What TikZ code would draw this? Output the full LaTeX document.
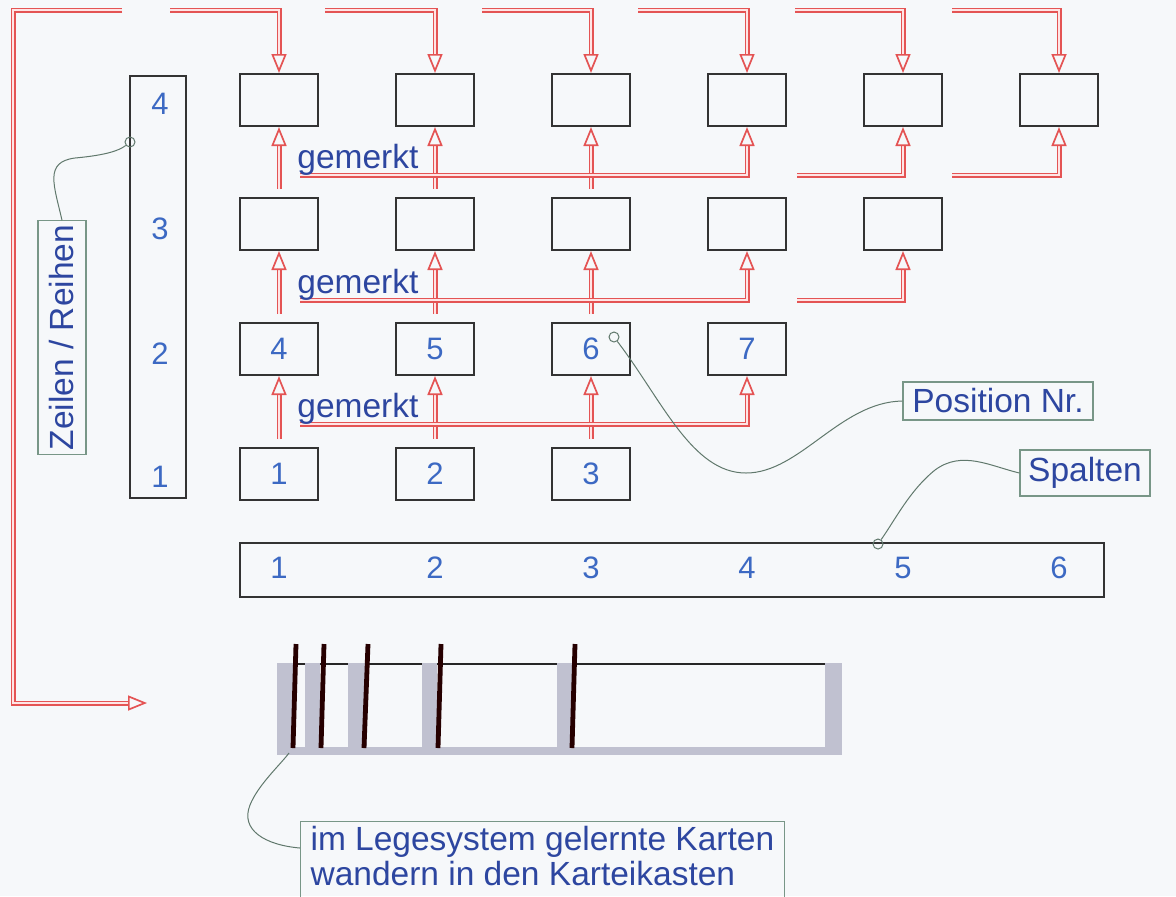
\documentclass[tikz,border=0pt]{standalone}
\usepackage{fontspec}
\setmainfont{Liberation Sans}
\usetikzlibrary{arrows.meta}

\definecolor{pipered}{RGB}{228,84,84}
\definecolor{numblue}{RGB}{60,105,195}
\definecolor{txtblue}{RGB}{45,70,160}
\definecolor{tagline}{RGB}{120,150,135}
\definecolor{boxgray}{RGB}{192,193,208}
\definecolor{paper}{RGB}{246,248,250}

\tikzset{
  cell/.style={draw=black!80, line width=1pt, minimum width=39pt, minimum height=26pt,
    inner sep=0pt, text=numblue, font=\fontsize{15.5}{15.5}\selectfont},
  bar/.style={draw=black!80, line width=0.8pt, inner sep=0pt},
  num/.style={text=numblue, inner sep=0pt, font=\fontsize{15.5}{15.5}\selectfont},
  pipe/.style={draw=pipered, line width=0.85pt, double=red!10, double distance=0.8pt},
  tip/.style={-{Triangle[open, length=9.5pt, width=7.5pt]}},
  note/.style={text=txtblue, inner sep=0pt, font=\fontsize{16.75}{17.5}\selectfont},
  tag/.style={draw=tagline, line width=0.6pt, text=txtblue, inner sep=2pt,
    font=\fontsize{16.75}{17.5}\selectfont},
  lead/.style={draw=tagline!80!black, line width=0.5pt},
  dot/.style={circle, draw=tagline!80!black, line width=0.5pt, inner sep=0pt, minimum size=5pt},
  card/.style={draw=black!85!red, line width=2.4pt}
}

\begin{document}
\begin{tikzpicture}[x=0.5pt, y=-0.5pt]
\fill[paper] (0,0) rectangle (1176,896);
\useasboundingbox (0,0) rectangle (1176,896);

% Legesystem: Reihe 4 oben, Reihe 1 unten
\foreach \c/\x in {1/279,2/435,3/591,4/747,5/903,6/1059}
  \node[cell] (c4\c) at (\x,100) {};
\foreach \c/\x in {1/279,2/435,3/591,4/747,5/903}
  \node[cell] (c3\c) at (\x,224) {};
\foreach \c/\x/\n in {1/279/4,2/435/5,3/591/6,4/747/7}
  \node[cell] (c2\c) at (\x,349) {\n};
\foreach \c/\x/\n in {1/279/1,2/435/2,3/591/3}
  \node[cell] (c1\c) at (\x,474) {\n};

% nach oben weiterlegen
\foreach \r/\s in {1/2,2/3,3/4}
  \foreach \c in {1,2,3}
    \draw[pipe,tip] ([yshift=4pt]c\r\c.north) -- (c\s\c.south);

\coordinate (g1) at (300,424);
\coordinate (g2) at (300,300);
\coordinate (g3) at (300,175);
\coordinate (h2) at (797,300);
\coordinate (h3) at (797,175);
\coordinate (k3) at (952,175);
\draw[pipe,tip] (g1) -| (c24.south);
\draw[pipe,tip] (g2) -| (c34.south);
\draw[pipe,tip] (h2) -| (c35.south);
\draw[pipe,tip] (g3) -| (c44.south);
\draw[pipe,tip] (h3) -| (c45.south);
\draw[pipe,tip] (k3) -| (c46.south);

\node[note, anchor=base west] (m1) at (297,417) {gemerkt};
\node[note, anchor=base west] (m2) at (297,293) {gemerkt};
\node[note, anchor=base west] (m3) at (297,168) {gemerkt};

% oben rein, links raus in den Kasten
\foreach \c/\x in {1/170,2/325,3/482,4/638,5/795,6/952} {
  \coordinate (t\c) at (\x,10);
  \draw[pipe,tip] (t\c) -| (c4\c.north);
}
\coordinate (t0) at (122,10);
\coordinate (kin) at (147,703);
\draw[pipe,tip] (t0) -- (13,10) |- (kin);

% Zeilen und Spalten
\node[bar, minimum width=28pt, minimum height=211pt] (rows) at (158,287) {};
\foreach \n/\y in {4/104,3/229,2/354,1/477}
  \node[num] (r\n) at (160,\y) {\n};
\node[bar, minimum width=432pt, minimum height=27pt] (cols) at (672,570) {};
\foreach \n/\x in {1/279,2/435,3/591,4/747,5/903,6/1059}
  \node[num] (s\n) at (\x,568) {\n};

% Karteikasten
\draw[black!85, line width=0.8pt] (290,664) -- (826,664);
\foreach \a/\b in {277/293,305/320,348/367,422/437,557/572,825/842}
  \fill[boxgray] (\a,663) rectangle (\b,755);
\fill[boxgray] (277,747) rectangle (842,755);
\foreach \a/\b in {296/293,324/321,368/364,441/438,575/572}
  \draw[card] (\a,644) -- (\b,748);
\coordinate (kk) at (289,753);

% Beschriftungen
\node[tag, rotate=90, minimum width=115.5pt, minimum height=24pt] (zr) at (62,337.5) {Zeilen / Reihen};
\node[tag, minimum width=95pt, minimum height=19pt] (pos) at (998,401) {Position Nr.};
\node[tag, minimum width=65pt, minimum height=23pt] (spa) at (1085,473) {Spalten};
\node[tag, anchor=north west, align=left, inner xsep=5pt, inner ysep=2.5pt] (kb) at (300,821)
  {im Legesystem gelernte Karten\\wandern in den Karteikasten\rule[-9pt]{0pt}{9pt}};

\node[dot] (p1) at (130,142) {};
\node[dot] (p2) at (614,337) {};
\node[dot] (p3) at (878,544) {};
\draw[lead] (zr.east) .. controls (54,185) and (44,162) .. (75,158) .. controls (108,155) and (120,150) .. (p1);
\draw[lead] (pos.west) .. controls (840,402) and (800,473) .. (746,473) .. controls (692,473) and (662,400) .. (p2);
\draw[lead] (spa.west) .. controls (990,466) and (962,450) .. (935,470) .. controls (910,490) and (895,520) .. (p3);
\draw[lead] ([yshift=-13.5pt]kb.north west) .. controls (265,845) and (240,830) .. (250,805) .. controls (258,785) and (280,765) .. (kk);
\end{tikzpicture}
\end{document}
